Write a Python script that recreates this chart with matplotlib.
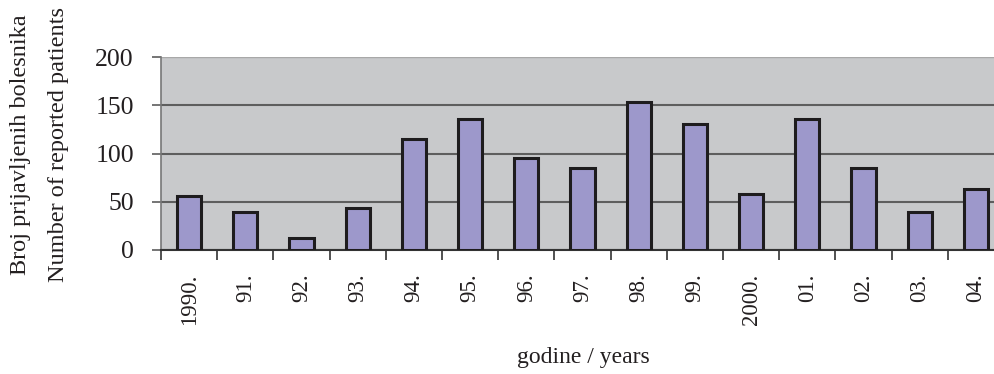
import matplotlib
matplotlib.use("Agg")
import matplotlib.pyplot as plt
import numpy as np

years = ["1990.", "91.", "92.", "93.", "94.", "95.", "96.", "97.", "98.", "99.",
         "2000.", "01.", "02.", "03.", "04."]
patients = [56, 39, 12, 44, 115, 136, 95, 85, 153, 131, 58, 136, 85, 39, 63]
yticks = [0, 50, 100, 150, 200]

plt.rcParams['font.family'] = ['Liberation Serif', 'DejaVu Serif']
txt = '#231F20'

fig = plt.figure(figsize=(9.94, 3.74), dpi=100)
ax = fig.add_axes([161/994, 124/374, 843/994, 193/374])
ax.set_facecolor('#C8C9CB')

x = np.arange(len(years))
ax.bar(x, patients, width=0.43, color='#9D98CB', edgecolor='#1E1C1E', linewidth=2.2, zorder=3)

ax.set_xlim(-0.5, len(years) - 0.5)
ax.set_ylim(0, 200)
ax.set_yticks(yticks)
ax.yaxis.grid(True, color='#5E5E5E', linewidth=1.5, zorder=1)
ax.set_axisbelow(True)

ax.set_xticks(np.arange(len(years) + 1) - 0.5)
ax.set_xticklabels([])
ax.set_xticks(x, minor=True)
ax.set_xticklabels(years, minor=True, rotation=90, fontsize=16.5, color=txt, va='top')
ax.tick_params(axis='x', which='major', direction='out', length=7, width=1.2, color='#333333')
ax.tick_params(axis='x', which='minor', length=0, pad=17)
ax.tick_params(axis='y', direction='out', length=6.5, width=1.2, color='#5E5E5E', labelsize=18.5,
               labelcolor=txt, pad=13)

for s in ['top', 'right']:
    ax.spines[s].set_visible(False)
ax.spines['left'].set_color('#777777')
ax.spines['left'].set_linewidth(1.2)
ax.spines['bottom'].set_color('#333333')
ax.spines['bottom'].set_linewidth(1.5)
ax.axhline(200, color='#A8A8A8', linewidth=1.5, zorder=2)

fig.text(21/994, 1 - 145/374, "Broj prijavljenih bolesnika", rotation=90, ha='center', va='center',
         fontsize=17.5, color=txt)
fig.text(59/994, 1 - 145/374, "Number of reported patients", rotation=90, ha='center', va='center',
         fontsize=17.5, color=txt)
fig.text(583/994, 1 - 358/374, "godine / years", ha='center', va='center', fontsize=17, color=txt)

fig.savefig("out.png", dpi=100)
